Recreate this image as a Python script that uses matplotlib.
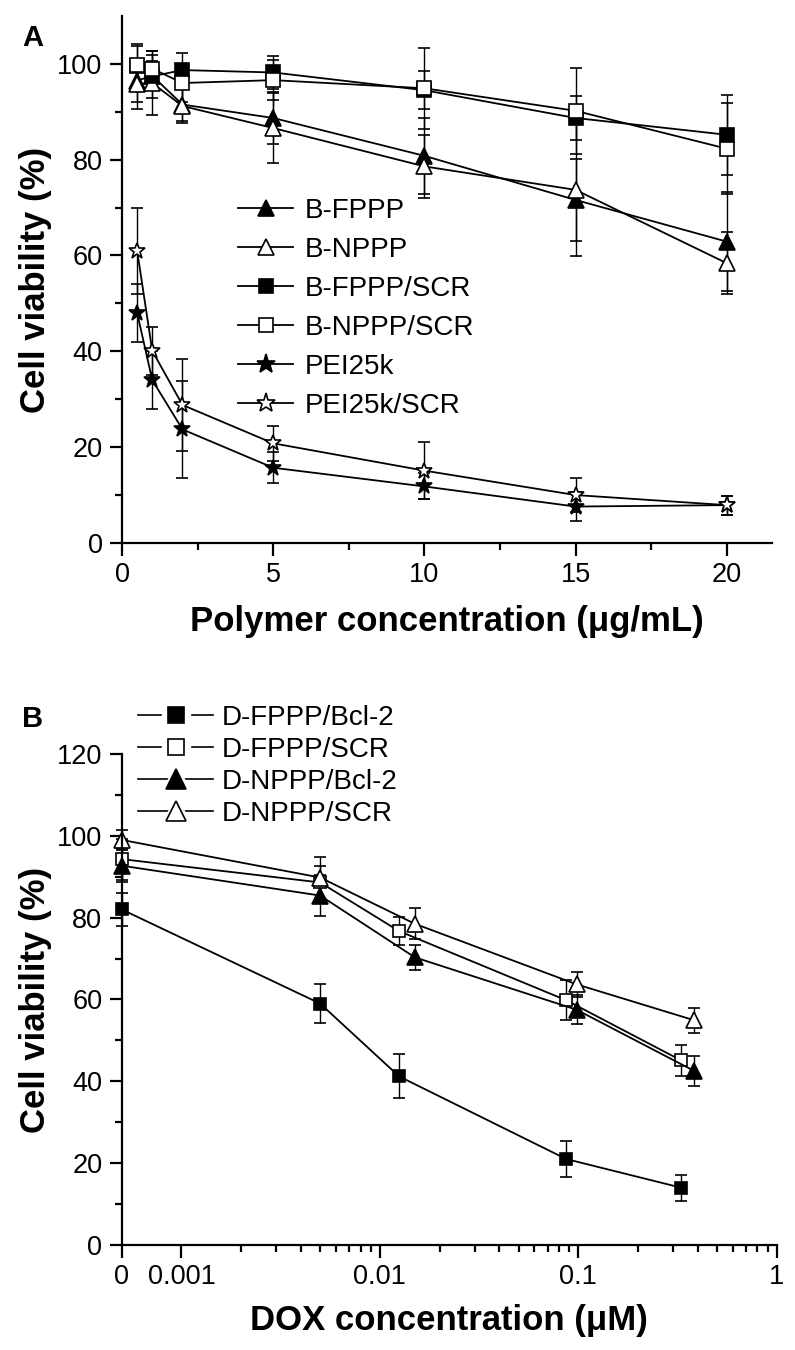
import numpy as np
import matplotlib
matplotlib.use('Agg')
import matplotlib.pyplot as plt
from matplotlib.lines import Line2D
from matplotlib.legend_handler import HandlerTuple
from matplotlib.ticker import MultipleLocator, FixedLocator, NullFormatter

plt.rcParams['font.family'] = ['Liberation Sans', 'DejaVu Sans']

# ---- panel A data: polymer concentration (ug/mL) vs cell viability (%)
conc = [0.5, 1, 2, 5, 10, 15, 20]
b_fppp = [96.5, 97.5, 91.5, 88.7, 80.8, 71.6, 62.9]
b_fppp_err = [4.5, 3.0, 3.5, 5.5, 8.0, 8.6, 10.4]
b_nppp = [95.8, 96.0, 91.2, 86.6, 78.6, 73.7, 58.4]
b_nppp_err = [5.2, 6.6, 3.6, 7.3, 6.5, 13.8, 6.5]
b_fppp_scr = [99.5, 97.4, 98.7, 98.2, 94.5, 88.7, 85.2]
b_fppp_scr_err = [4.3, 4.5, 3.5, 3.5, 4.0, 4.5, 8.3]
b_nppp_scr = [99.7, 99.0, 96.0, 96.6, 94.9, 90.2, 82.3]
b_nppp_scr_err = [4.5, 3.6, 4.0, 4.2, 8.5, 9.0, 9.5]
pei = [48.0, 34.0, 23.7, 15.7, 11.8, 7.6, 7.9]
pei_err = [6.0, 6.0, 10.2, 3.2, 2.7, 3.1, 2.0]
pei_scr = [61.0, 40.1, 28.8, 20.8, 15.1, 10.0, 7.9]
pei_scr_err = [9.0, 5.0, 9.6, 3.7, 6.0, 3.5, 2.0]

# ---- panel B data: DOX concentration (uM) vs cell viability (%)
dox_fppp = [0, 0.005, 0.0125, 0.087, 0.33]
dox_nppp = [0, 0.005, 0.015, 0.098, 0.385]
d_fppp_bcl2 = [82.0, 59.0, 41.2, 21.0, 14.0]
d_fppp_bcl2_err = [4.0, 4.7, 5.4, 4.5, 3.2]
d_fppp_scr = [94.3, 88.6, 76.7, 59.8, 45.1]
d_fppp_scr_err = [5.0, 4.0, 3.4, 4.9, 3.8]
d_nppp_bcl2 = [92.7, 85.4, 70.3, 57.5, 42.5]
d_nppp_bcl2_err = [4.0, 5.0, 3.0, 3.5, 3.7]
d_nppp_scr = [99.0, 89.8, 78.5, 63.7, 54.9]
d_nppp_scr_err = [2.5, 5.0, 3.8, 3.1, 3.0]

X0 = 0.0005  # where "0" sits on the log axis

LABEL_FONT = dict(fontweight='bold', fontsize=25)


def series(ax, x, y, err, marker, filled, ms):
    ax.errorbar(x, y, yerr=err, color='k', lw=1.3, elinewidth=1.0, capsize=4,
                capthick=1.0, marker=marker, ms=ms, mec='k', mew=1.2,
                mfc='k' if filled else 'white')


def style_axes(ax):
    for side in ['top', 'right']:
        ax.spines[side].set_visible(False)
    for side in ['left', 'bottom']:
        ax.spines[side].set_linewidth(1.6)
    ax.tick_params(which='major', direction='out', length=9, width=1.6,
                   labelsize=19.5, pad=5)
    ax.tick_params(which='minor', direction='out', length=5, width=1.6)


fig = plt.figure(figsize=(7.95, 13.5), dpi=100)

# ---------------- panel A
axA = fig.add_axes([0.1535, 0.5978, 0.8176, 0.3904])
series(axA, conc, b_fppp, b_fppp_err, '^', True, 12)
series(axA, conc, b_nppp, b_nppp_err, '^', False, 12)
series(axA, conc, b_fppp_scr, b_fppp_scr_err, 's', True, 9.5)
series(axA, conc, b_nppp_scr, b_nppp_scr_err, 's', False, 9.5)
series(axA, conc, pei, pei_err, '*', True, 12)
series(axA, conc, pei_scr, pei_scr_err, '*', False, 12)
axA.set_xlim(0, 21.5)
axA.set_ylim(0, 110)
axA.xaxis.set_major_locator(MultipleLocator(5))
axA.xaxis.set_minor_locator(MultipleLocator(2.5))
axA.yaxis.set_major_locator(FixedLocator([0, 20, 40, 60, 80, 100]))
axA.yaxis.set_minor_locator(FixedLocator([10, 30, 50, 70, 90]))
style_axes(axA)
axA.set_xlabel('Polymer concentration (\u03bcg/mL)', labelpad=12, **LABEL_FONT)
axA.set_ylabel('Cell viability (%)', **LABEL_FONT)
axA.yaxis.set_label_coords(-0.108, 0.5)

names_a = ['B-FPPP', 'B-NPPP', 'B-FPPP/SCR', 'B-NPPP/SCR', 'PEI25k', 'PEI25k/SCR']
marks_a = [('^', True, 12), ('^', False, 12), ('s', True, 9.5), ('s', False, 9.5),
           ('*', True, 14), ('*', False, 14)]
handles_a = [Line2D([], [], color='k', lw=1.3, marker=m, ms=s, mec='k', mew=1.2,
                    mfc='k' if f else 'white') for m, f, s in marks_a]
axA.legend(handles_a, names_a, loc='upper left', bbox_to_anchor=(0.178, 0.655),
           frameon=False, fontsize=20, handlelength=2.0, handletextpad=0.4,
           labelspacing=0.47, borderpad=0, borderaxespad=0)

# ---------------- panel B
axB = fig.add_axes([0.1531, 0.0778, 0.8239, 0.3637])
x_f = [X0 if v == 0 else v for v in dox_fppp]
x_n = [X0 if v == 0 else v for v in dox_nppp]
series(axB, x_f, d_fppp_bcl2, d_fppp_bcl2_err, 's', True, 8.5)
series(axB, x_f, d_fppp_scr, d_fppp_scr_err, 's', False, 8.5)
series(axB, x_n, d_nppp_bcl2, d_nppp_bcl2_err, '^', True, 11)
series(axB, x_n, d_nppp_scr, d_nppp_scr_err, '^', False, 11)
for ln in axB.lines:
    ln.set_clip_on(False)
axB.set_xscale('log')
axB.set_xlim(X0, 1)
axB.set_ylim(0, 120)
axB.xaxis.set_major_locator(FixedLocator([X0, 0.001, 0.01, 0.1, 1]))
axB.set_xticklabels(['0', '0.001', '0.01', '0.1', '1'])
minors = [k * 10.0 ** d for d in (-3, -2, -1) for k in range(2, 10)]
axB.xaxis.set_minor_locator(FixedLocator(minors))
axB.xaxis.set_minor_formatter(NullFormatter())
axB.yaxis.set_major_locator(MultipleLocator(20))
axB.yaxis.set_minor_locator(MultipleLocator(10))
style_axes(axB)
axB.set_xlabel('DOX concentration (\u03bcM)', labelpad=10, **LABEL_FONT)
axB.set_ylabel('Cell viability (%)', **LABEL_FONT)
axB.yaxis.set_label_coords(-0.106, 0.5)

names_b = ['D-FPPP/Bcl-2', 'D-FPPP/SCR', 'D-NPPP/Bcl-2', 'D-NPPP/SCR']
marks_b = [('s', True, 11), ('s', False, 11), ('^', True, 14), ('^', False, 14)]
handles_b = []
for m, f, s in marks_b:
    line = Line2D([], [], color='k', lw=1.2)
    gap = Line2D([], [], ls='none', marker=m, ms=s + 9, mfc='white', mec='white')
    dot = Line2D([], [], ls='none', marker=m, ms=s, mec='k', mew=1.2,
                 mfc='k' if f else 'white')
    handles_b.append((line, gap, dot))
axB.legend(handles_b, names_b, loc='upper left', bbox_to_anchor=(0.025, 1.1),
           frameon=False, fontsize=20, handlelength=2.7, handletextpad=0.3,
           labelspacing=0.22, borderpad=0, borderaxespad=0,
           handler_map={tuple: HandlerTuple(ndivide=1)})

fig.text(22 / 795, 1 - 46 / 1350, 'A', fontsize=21, fontweight='bold')
fig.text(22 / 795, 1 - 727 / 1350, 'B', fontsize=21, fontweight='bold')

fig.savefig('out.png', dpi=100)
